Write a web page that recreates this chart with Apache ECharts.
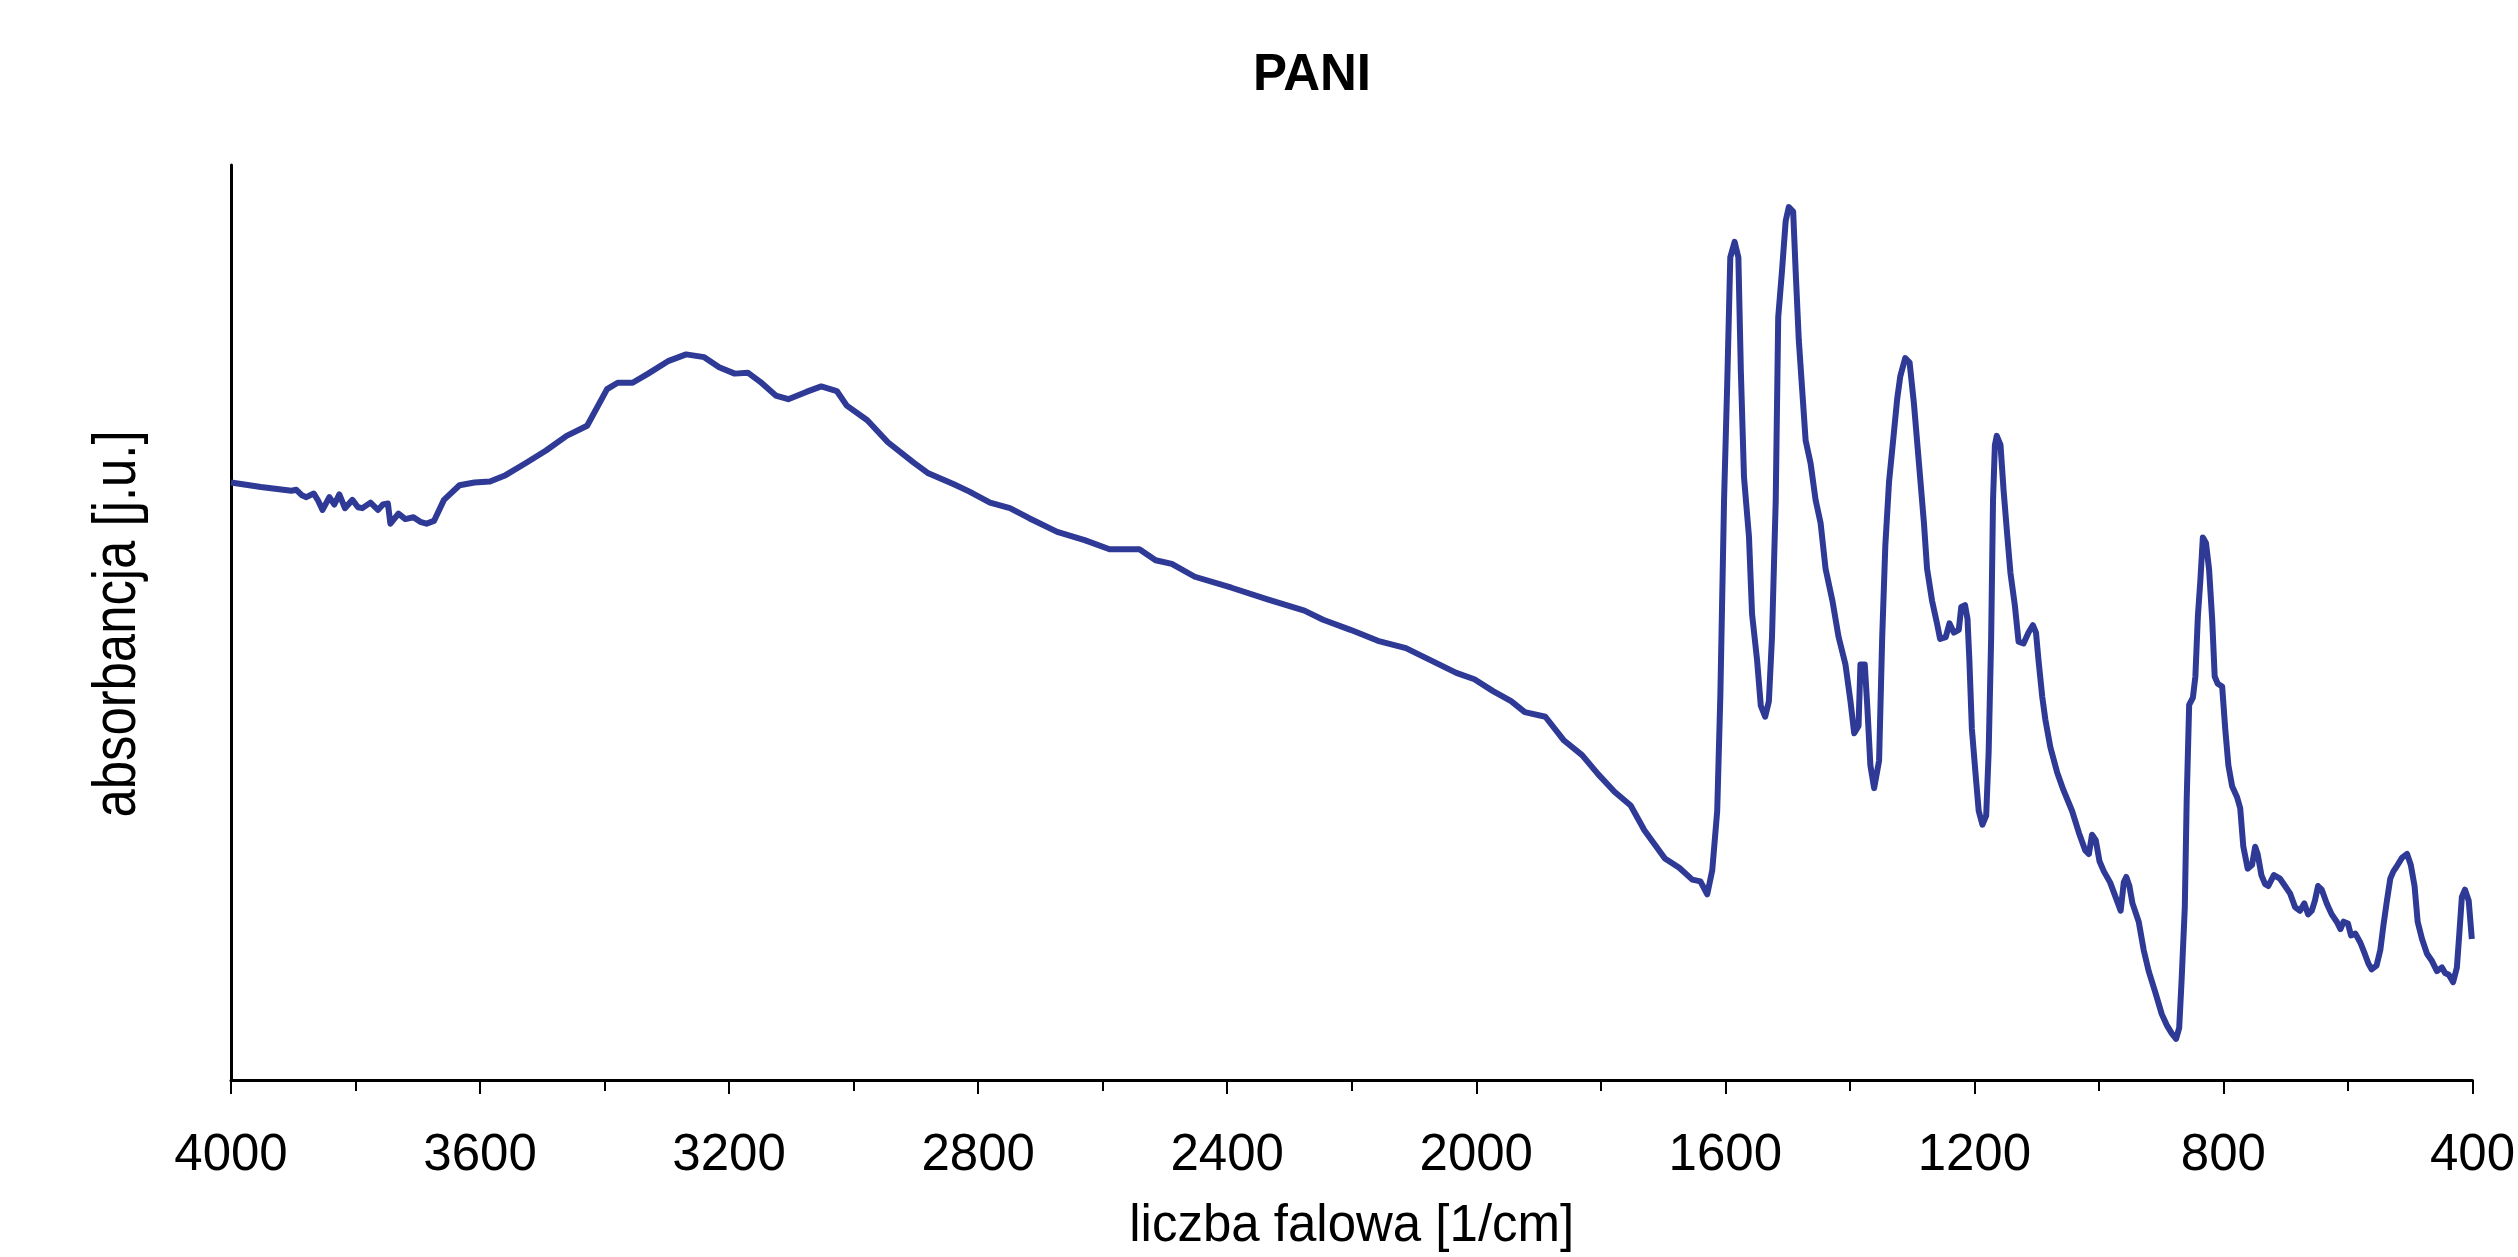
<!DOCTYPE html>
<html>
<head>
<meta charset="utf-8">
<title>PANI</title>
<script src="https://cdn.jsdelivr.net/npm/echarts@6/dist/echarts.min.js"></script>
<style>
  html, body { margin: 0; padding: 0; background: #fff; }
  #chart { width: 2518px; height: 1257px; }
</style>
</head>
<body>
<div id="chart"></div>
<script>
const waveNumbers = [
  4000, 3952, 3903, 3895, 3886, 3879, 3867, 3860, 3853, 3842, 3834, 3826, 3817, 3805, 3796, 3789,
  3776, 3764, 3756, 3748, 3744, 3731, 3720, 3707, 3696, 3686, 3674, 3658, 3633, 3609, 3584, 3559,
  3527, 3494, 3461, 3428, 3396, 3379, 3355, 3330, 3297, 3269, 3240, 3216, 3191, 3170, 3150, 3125,
  3105, 3076, 3052, 3027, 3011, 2978, 2945, 2904, 2880, 2839, 2814, 2781, 2749, 2718, 2673, 2629,
  2589, 2541, 2515, 2489, 2452, 2393, 2334, 2276, 2246, 2202, 2158, 2113, 2077, 2032, 2003, 1973,
  1944, 1922, 1889, 1859, 1830, 1804, 1778, 1752, 1730, 1697, 1674, 1653, 1640, 1629, 1621, 1613,
  1608, 1602, 1597, 1592, 1585, 1579, 1575, 1570, 1562, 1557, 1549, 1543, 1536, 1530, 1525, 1519,
  1515, 1509, 1503, 1498, 1491, 1487, 1482, 1477, 1471, 1463, 1455, 1447, 1439, 1428, 1418, 1407,
  1399, 1393, 1386, 1383, 1376, 1372, 1367, 1361, 1353, 1348, 1343, 1337, 1329, 1324, 1319, 1311,
  1304, 1297, 1289, 1281, 1276, 1268, 1260, 1255, 1246, 1240, 1233, 1225, 1221, 1215, 1211, 1208,
  1204, 1198, 1193, 1187, 1181, 1177, 1173, 1170, 1167, 1164, 1158, 1153, 1147, 1142, 1135, 1129,
  1121, 1113, 1106, 1101, 1097, 1091, 1086, 1078, 1067, 1057, 1043, 1032, 1022, 1016, 1011, 1005,
  999, 992, 982, 971, 965, 960, 956, 951, 946, 936, 928, 920, 909, 899, 891, 883,
  876, 871, 867, 862, 859, 855, 849, 845, 841, 837, 833, 828, 823, 818, 814, 809,
  802, 797, 792, 786, 778, 773, 768, 761, 754, 749, 745, 739, 733, 728, 719, 709,
  701, 693, 685, 677, 670, 664, 658, 653, 648, 642, 634, 626, 618, 612, 607, 600,
  595, 588, 580, 573, 567, 562, 554, 548, 543, 538, 532, 527, 522, 513, 505, 499,
  493, 488, 481, 473, 465, 457, 449, 444, 438, 431, 425, 421, 417, 412, 406, 401
];

// absorbancja [j.u.], arbitrary units (0 = bottom axis, 100 = top of the y axis)
const absorbance = [
  65.3, 64.8, 64.4, 64.5, 63.9, 63.7, 64.1, 63.3, 62.3, 63.7, 62.9, 64.0, 62.5, 63.4, 62.6, 62.5,
  63.1, 62.3, 62.9, 63.0, 60.8, 61.9, 61.3, 61.5, 61.0, 60.8, 61.1, 63.4, 65.0, 65.3, 65.4, 66.1,
  67.4, 68.8, 70.4, 71.5, 75.5, 76.2, 76.2, 77.2, 78.6, 79.3, 79.0, 77.9, 77.2, 77.3, 76.3, 74.8,
  74.4, 75.2, 75.8, 75.3, 73.7, 72.1, 69.7, 67.5, 66.3, 65.1, 64.3, 63.1, 62.5, 61.4, 59.9, 59.0,
  58.0, 58.0, 56.8, 56.4, 55.0, 53.8, 52.5, 51.3, 50.3, 49.2, 48.0, 47.2, 46.0, 44.5, 43.8, 42.5,
  41.4, 40.2, 39.7, 37.1, 35.5, 33.4, 31.5, 30.0, 27.3, 24.2, 23.2, 21.9, 21.7, 20.3, 22.9, 29.4,
  41.9, 63.4, 75.9, 89.9, 91.6, 89.9, 77.4, 65.9, 59.4, 50.9, 45.9, 40.9, 39.7, 41.4, 48.4, 63.4,
  83.4, 88.4, 93.9, 95.4, 94.9, 88.4, 80.9, 75.9, 69.9, 67.4, 63.4, 60.9, 55.9, 52.4, 48.4, 45.4,
  41.4, 37.9, 38.7, 45.4, 45.4, 40.9, 34.4, 31.9, 34.9, 48.4, 58.4, 65.4, 70.9, 74.4, 76.9, 78.9,
  78.4, 73.9, 67.4, 60.9, 55.9, 52.4, 49.9, 48.2, 48.4, 49.9, 48.9, 49.2, 51.7, 51.9, 50.4, 45.9,
  38.4, 33.4, 29.4, 27.9, 28.9, 35.9, 48.4, 63.4, 69.4, 70.4, 69.4, 64.4, 59.4, 55.4, 51.9, 47.9,
  47.7, 48.9, 49.7, 48.9, 45.9, 41.9, 39.4, 36.4, 33.6, 31.7, 29.4, 27.0, 25.1, 24.7, 26.8, 26.2,
  23.9, 22.8, 21.6, 19.6, 18.5, 21.6, 22.2, 21.2, 19.3, 17.3, 14.2, 11.9, 9.5, 7.2, 6.0, 5.1,
  4.5, 5.7, 11.1, 18.9, 30.5, 41.0, 41.8, 44.1, 50.7, 54.6, 59.3, 58.7, 55.8, 50.3, 44.1, 43.3,
  43.0, 38.3, 34.4, 32.1, 30.9, 29.7, 25.5, 23.1, 23.5, 25.5, 24.7, 22.4, 21.4, 21.2, 22.4, 22.0,
  21.2, 20.4, 18.9, 18.5, 19.3, 18.1, 18.5, 19.6, 21.2, 20.8, 19.3, 18.1, 17.3, 16.5, 17.3, 17.1,
  15.8, 16.0, 15.0, 13.8, 12.7, 12.1, 12.5, 14.2, 16.9, 19.3, 22.0, 22.8, 23.3, 24.3, 24.7, 23.5,
  21.2, 17.3, 15.4, 13.8, 13.0, 11.9, 12.3, 11.7, 11.5, 10.7, 12.3, 16.1, 20.0, 20.8, 19.6, 15.4
];

const xMin = 400;
const xMax = 4000;
const xStep = 400;

const titleText = 'PANI';
const xName = 'liczba falowa [1/cm]';
const yName = 'absorbancja [j.u.]';

const fontFamily = '"Liberation Sans", Arial, sans-serif';
const lineColor = '#2E3A96';

const chart = echarts.init(document.getElementById('chart'), null, { renderer: 'canvas' });

const seriesData = waveNumbers.map((w, i) => [w, absorbance[i]]);

const option = {
  backgroundColor: '#fff',
  animation: false,
  title: {
    text: titleText,
    left: 1307,
    top: 45,
    textAlign: 'center',
    textStyle: {
      fontFamily: fontFamily,
      fontSize: 51,
      fontWeight: 'bold',
      color: '#000'
    }
  },
  grid: {
    left: 231,
    right: 44,
    top: 165,
    bottom: 173
  },
  xAxis: {
    type: 'value',
    inverse: true,
    min: xMin,
    max: xMax,
    interval: xStep,
    name: xName,
    nameLocation: 'middle',
    nameGap: 121,
    nameTextStyle: {
      fontFamily: fontFamily,
      fontSize: 51,
      color: '#000'
    },
    axisLine: {
      show: true,
      onZero: false,
      lineStyle: { color: '#000', width: 3 }
    },
    axisTick: {
      show: true,
      length: 14,
      lineStyle: { color: '#000', width: 2 }
    },
    minorTick: {
      show: true,
      splitNumber: 2,
      length: 11,
      lineStyle: { color: '#000', width: 2 }
    },
    axisLabel: {
      margin: 50,
      fontFamily: fontFamily,
      fontSize: 51,
      color: '#000',
      // plain numbers, no thousands separator
      formatter: function (v) {
        return String(v);
      }
    },
    splitLine: { show: false },
    minorSplitLine: { show: false }
  },
  yAxis: {
    type: 'value',
    min: 0,
    max: 100,
    axisLine: {
      show: true,
      onZero: false,
      lineStyle: { color: '#000', width: 3 }
    },
    axisTick: { show: false },
    axisLabel: { show: false },
    splitLine: { show: false }
  },
  graphic: [
    {
      // y axis title, tall and narrow like the original
      type: 'text',
      x: 118,
      y: 624,
      rotation: Math.PI / 2,
      scaleX: 0.82,
      style: {
        text: yName,
        font: '62px ' + fontFamily,
        fill: '#000',
        align: 'center',
        verticalAlign: 'middle'
      }
    }
  ],
  series: [
    {
      name: titleText,
      type: 'line',
      data: seriesData,
      showSymbol: false,
      smooth: false,
      clip: true,
      lineStyle: { color: lineColor, width: 6, join: 'round' },
      itemStyle: { color: lineColor }
    }
  ]
};

chart.setOption(option);

window.addEventListener('resize', function () {
  chart && chart.resize();
});
</script>
</body>
</html>
